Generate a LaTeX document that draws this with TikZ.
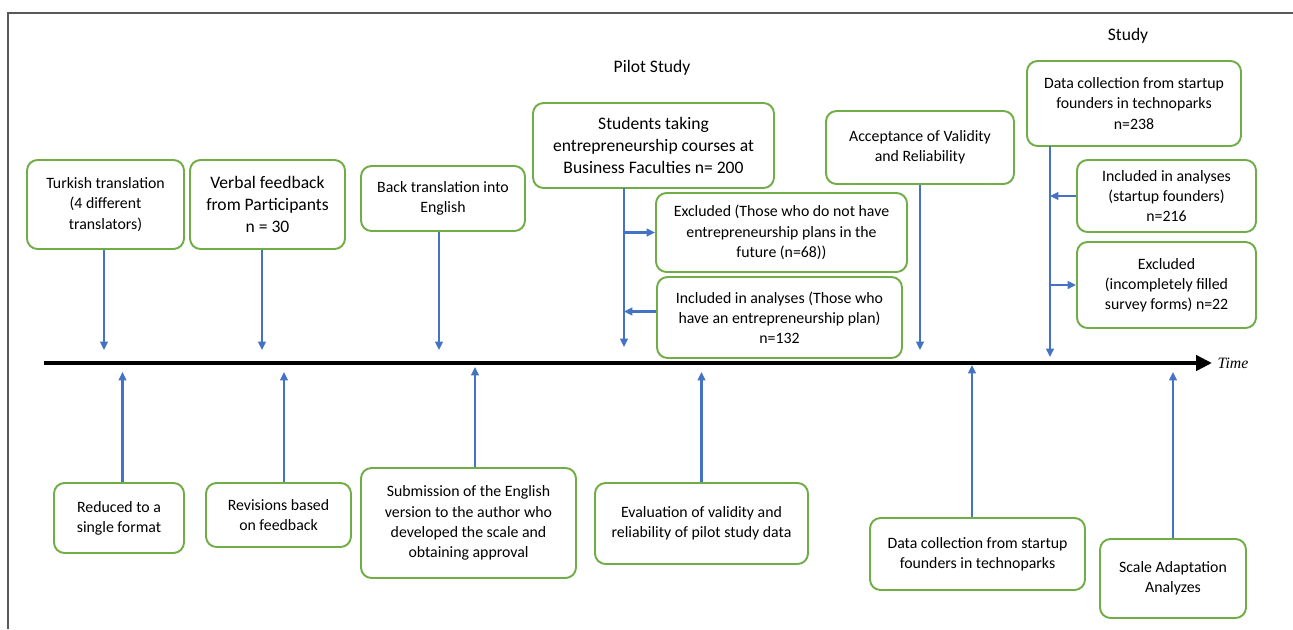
\documentclass[tikz,border=0pt]{standalone}
\usepackage{fontspec}
\setmainfont{Carlito}
\newfontfamily\timefont{Liberation Serif}
\usetikzlibrary{arrows.meta,calc}
\definecolor{boxgreen}{HTML}{70AD47}
\definecolor{linkblue}{HTML}{4472C4}
\definecolor{framegray}{HTML}{595959}
\begin{document}
\begin{tikzpicture}[x=0.02cm, y=-0.02cm, >={Triangle[length=4.8pt,width=4.4pt]},
    every node/.style={font=\fontsize{9}{11.5}\selectfont},
    box/.style={draw=boxgreen, line width=1.1pt, rounded corners=6pt, fill=white, align=center, inner sep=2pt},
    big/.style={font=\fontsize{10}{12.3}\selectfont},
    boxsize/.style 2 args={minimum width=#1*0.02cm, minimum height=#2*0.02cm},
    link/.style={->, draw=linkblue, line width=1.25pt},
    axis/.style={-{Triangle[length=9pt,width=8.5pt]}, line width=2.6pt}]
    \useasboundingbox (0,0) rectangle (1293,629);
    \draw[framegray, line width=0.8pt] (8,629) -- (8,13) -- (1293,13);

    % time axis
    \coordinate (axisL) at (44,363);
    \coordinate (axisR) at (1212,363);
    \coordinate (abv) at (0,350);
    \coordinate (blw) at (0,372);
    \draw[axis] (axisL) -- (axisR);
    \node[right, font=\timefont\itshape\fontsize{9}{11}\selectfont, inner sep=3pt] (time) at (axisR) {Time};

    % phase titles
    \node[big] (pilot) at (652,68) {Pilot Study};
    \node[big] (study) at (1128,36) {Study};

    % above the axis
    \node[box, boxsize={157}{89}] (turk) at (105.5,204.5) {Turkish translation\\(4 different\\translators)};
    \node[box, big, boxsize={155}{89}] (verb) at (267.5,204.5) {Verbal feedback\\from Participants\\n = 30};
    \node[box, boxsize={164}{65}] (back) at (443,198.5) {Back translation into\\English};
    \node[box, big, boxsize={241}{85}] (stu) at (653.5,145.5) {Students taking\\entrepreneurship courses at\\Business Faculties n= 200};
    \node[box, boxsize={251}{79}] (excl) at (781.5,232.5) {Excluded (Those who do not have\\entrepreneurship plans in the\\future (n=68))};
    \node[box, boxsize={245}{81}] (incl) at (779.5,317.5) {Included in analyses (Those who\\have an entrepreneurship plan)\\n=132};
    \node[box, boxsize={188}{73}] (acc) at (920,147.5) {Acceptance of Validity\\and Reliability};
    \node[box, boxsize={214}{85}] (data) at (1134,103.5) {Data collection from startup\\founders in technoparks\\n=238};
    \node[box, boxsize={179}{72}] (sinc) at (1166.5,196) {Included in analyses\\(startup founders)\\n=216};
    \node[box, boxsize={179}{86}] (sexc) at (1166.5,285) {Excluded\\(incompletely filled\\survey forms) n=22};

    % below the axis
    \node[box, boxsize={130}{70}] (red) at (119,518) {Reduced to a\\single format};
    \node[box, boxsize={145}{64}] (rev) at (278.5,515) {Revisions based\\on feedback};
    \node[box, boxsize={215}{110}] (sub) at (468.5,523) {Submission of the English\\version to the author who\\developed the scale and\\obtaining approval};
    \node[box, boxsize={213}{81}] (eva) at (701.5,523.5) {Evaluation of validity and\\reliability of pilot study data};
    \node[box, boxsize={215}{72}] (dat2) at (977.5,554) {Data collection from startup\\founders in technoparks};
    \node[box, boxsize={146}{79}] (scl) at (1173,578.5) {Scale Adaptation\\Analyzes};

    % branching trunks
    \coordinate (pilotTop) at (624,188);
    \coordinate (pilotEnd) at (624,347);
    \coordinate (studyTop) at (1050,146);
    \coordinate (studyEnd) at (1050,357);

    \draw[link] ($(turk.south)+(-1.5,0)$) -- ($(turk.south |- abv)+(-1.5,0)$);
    \draw[link] ($(verb.south)+(-5.5,0)$) -- ($(verb.south |- abv)+(-5.5,0)$);
    \draw[link] ($(back.south)+(-4,0)$) -- ($(back.south |- abv)+(-4,0)$);
    \draw[link] (pilotTop) -- (pilotEnd);
    \draw[link] (pilotTop |- excl.west) -- (excl.west);
    \draw[link] ($(incl.west)+(0,-6)$) -- ($(incl.west -| pilotTop)+(0,-6)$);
    \draw[link] (acc.south) -- (acc.south |- abv);
    \draw[link] (studyTop) -- (studyEnd);
    \draw[link] (sinc.west) -- (sinc.west -| studyTop);
    \draw[link] (sexc.west -| studyTop) -- (sexc.west);

    \draw[link] ($(red.north)+(3.5,0)$) -- ($(red.north |- blw)+(3.5,0)$);
    \draw[link] ($(rev.north)+(5.5,0)$) -- ($(rev.north |- blw)+(5.5,0)$);
    \draw[link] ($(sub.north)+(6.5,0)$) -- ($(sub.north |- blw)+(6.5,-5)$);
    \draw[link] (eva.north) -- (eva.north |- blw);
    \draw[link] ($(dat2.north)+(-5.5,0)$) -- ($(dat2.north |- blw)+(-5.5,-7)$);
    \draw[link] (scl.north) -- (scl.north |- blw);
\end{tikzpicture}
\end{document}
